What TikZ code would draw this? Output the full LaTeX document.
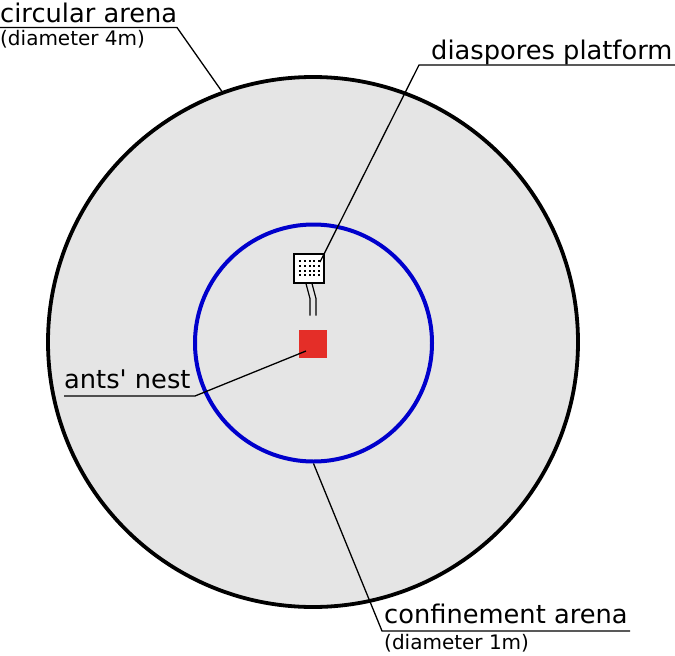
\documentclass[tikz,border=0pt]{standalone}
\usepackage{fontspec}
\setmainfont{DejaVu Sans}[Ligatures=TeXOff]
\definecolor{arenagrey}{RGB}{229,229,229}
\definecolor{confblue}{RGB}{0,0,204}
\definecolor{nestred}{RGB}{228,46,40}
\tikzset{
  lbl/.style={anchor=base west,inner sep=0pt,font=\fontsize{25.7}{30}\selectfont},
  sublbl/.style={anchor=base west,inner sep=0pt,font=\fontsize{20}{24}\selectfont},
  leader/.style={line width=1.3pt},
}
\begin{document}
\begin{tikzpicture}[x=1pt,y=-1pt]
\useasboundingbox (0,0) rectangle (675,656);
% arenas
\node[circle,draw,line width=3.8pt,fill=arenagrey,minimum size=530pt,inner sep=0pt] (arena) at (313,342) {};
\node[circle,draw=confblue,line width=4pt,minimum size=237pt,inner sep=0pt] (conf) at (313.5,343) {};
% nest and platform
\node[fill=nestred,minimum size=28pt,inner sep=0pt] (nest) at (313,344) {};
\node[draw,fill=white,line width=1.2pt,minimum width=30pt,minimum height=29pt,inner sep=0pt] (platform) at (309,268.5) {};
\foreach \i in {0,...,4}
  \foreach \j in {0,...,3}
    \fill (299+4.75*\i,260+4.8*\j) rectangle +(2,2);
\draw[line width=1.2pt] ([xshift=-3pt]platform.south) -- ++(4,15) -- ++(0,17)
  ([xshift=3pt]platform.south) -- ++(4,15) -- ++(0,17);
% labels
\node[lbl] (arenalbl) at (0,22.5) {circular arena};
\node[sublbl] (arenasub) at (0,45) {(diameter 4m)};
\node[lbl] (platformlbl) at (431,59) {diaspores platform};
\node[lbl] (nestlbl) at (64,388) {ants' nest};
\node[lbl] (conflbl) at (384,623) {confinement arena};
\node[sublbl] (confsub) at (384,649) {(diameter 1m)};
% leaders
\coordinate (arenaknee) at (177,27.5);
\coordinate (platformknee) at (419,65);
\coordinate (platformdot) at (320,262);
\coordinate (nestknee) at (195,396);
\coordinate (confknee) at (382,631);
\draw[leader] (0,27.5) -- (arenaknee) -- (arena.110.5);
\draw[leader] (675,65) -- (platformknee) -- (platformdot);
\draw[leader] (64,396) -- (nestknee) -- ([shift={(-7,7)}]nest.center);
\draw[leader] (630,631) -- (confknee) -- (conf.south);
\end{tikzpicture}
\end{document}
